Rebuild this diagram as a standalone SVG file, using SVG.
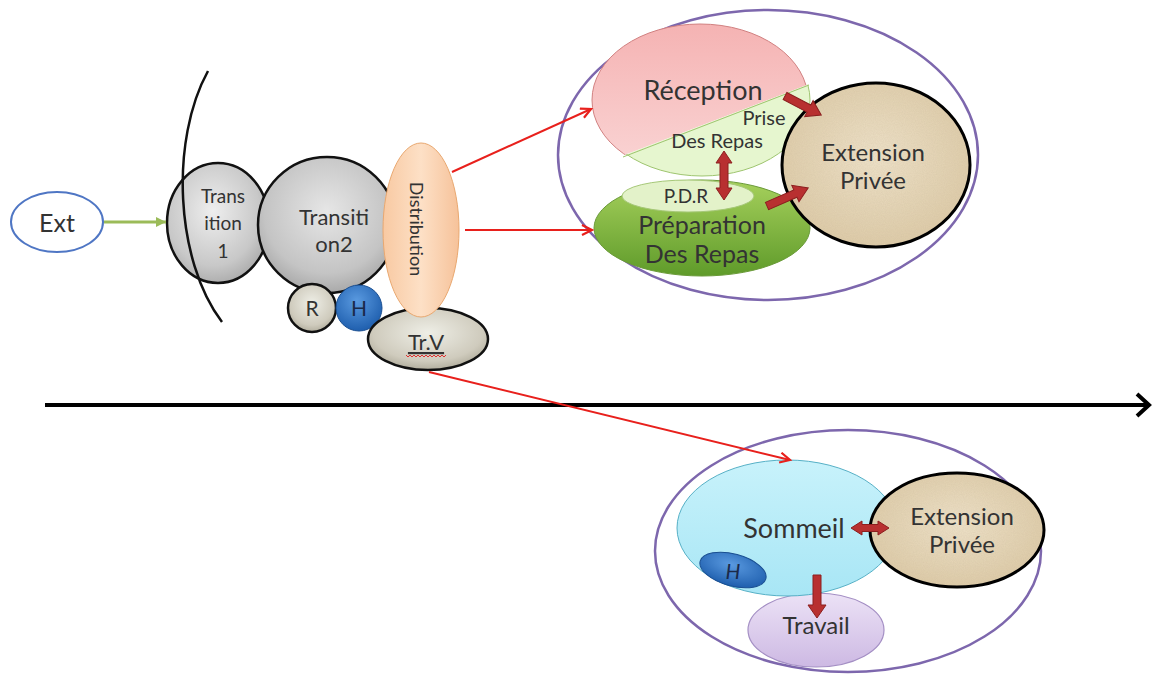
<svg xmlns="http://www.w3.org/2000/svg" width="1156" height="674" viewBox="0 0 1156 674">
<defs>
<style>
.t{font-family:Lato,"Open Sans","Liberation Sans",sans-serif;fill:#333333;text-anchor:middle}
.red{stroke:#e8201c;stroke-width:2;fill:none}
.blk{fill:#b83030;stroke:#8c1f1f;stroke-width:1}
.gray{stroke:#111;stroke-width:2.5}
.ring{fill:none;stroke:#000;stroke-width:3}
</style>
<radialGradient id="gGray" cx="0.45" cy="0.4" r="0.65"><stop offset="0" stop-color="#eeeeee"/><stop offset="0.7" stop-color="#c8c8c8"/><stop offset="1" stop-color="#a6a6a6"/></radialGradient>
<radialGradient id="gGray2" cx="0.5" cy="0.4" r="0.65"><stop offset="0" stop-color="#e6e6e6"/><stop offset="0.7" stop-color="#c4c4c4"/><stop offset="1" stop-color="#a0a0a0"/></radialGradient>
<radialGradient id="gTan" cx="0.5" cy="0.4" r="0.65"><stop offset="0" stop-color="#eeeee6"/><stop offset="0.7" stop-color="#cfcbbd"/><stop offset="1" stop-color="#a8a493"/></radialGradient>
<radialGradient id="gBlue" cx="0.45" cy="0.35" r="0.65"><stop offset="0" stop-color="#5a9ae0"/><stop offset="1" stop-color="#1f5fae"/></radialGradient>
<linearGradient id="gOrange" x1="0" y1="0" x2="1" y2="0"><stop offset="0" stop-color="#f8c9a2"/><stop offset="0.5" stop-color="#fde0c6"/><stop offset="1" stop-color="#f6c29a"/></linearGradient>
<radialGradient id="gSand" cx="0.5" cy="0.45" r="0.6"><stop offset="0" stop-color="#efe3ca"/><stop offset="1" stop-color="#ddcaa6"/></radialGradient>
<linearGradient id="gPink" x1="0" y1="0" x2="0" y2="1"><stop offset="0" stop-color="#f5b3b3"/><stop offset="1" stop-color="#fad6d6"/></linearGradient>
<linearGradient id="gGreen" x1="0" y1="0" x2="0" y2="1"><stop offset="0" stop-color="#a6d05c"/><stop offset="1" stop-color="#5f9b2a"/></linearGradient>
<linearGradient id="gCyan" x1="0" y1="0" x2="0" y2="1"><stop offset="0" stop-color="#c8f2fb"/><stop offset="1" stop-color="#a8e6f5"/></linearGradient>
<linearGradient id="gLav" x1="0" y1="0" x2="0" y2="1"><stop offset="0" stop-color="#ece2f6"/><stop offset="1" stop-color="#cdb9e3"/></linearGradient>
<filter id="noise" x="0" y="0" width="1" height="1"><feTurbulence type="fractalNoise" baseFrequency="0.9" numOctaves="2" seed="3" result="n"/><feColorMatrix in="n" type="matrix" values="0 0 0 0 0.55  0 0 0 0 0.45  0 0 0 0 0.3  0 0 0 0.3 0" result="c"/><feComposite in="c" in2="SourceGraphic" operator="in" result="m"/><feMerge><feMergeNode in="SourceGraphic"/><feMergeNode in="m"/></feMerge></filter>
<clipPath id="clipTop"><polygon points="560,0 860,0 860,62 820,80 580,172 560,180"/></clipPath>
<clipPath id="clipBot"><polygon points="580,172 820,80 860,62 860,200 560,200 560,180"/></clipPath>
<marker id="rh" markerWidth="14" markerHeight="12" refX="11" refY="6" orient="auto" markerUnits="userSpaceOnUse"><path d="M1,1 L11,6 L1,11" fill="none" stroke="#e8201c" stroke-width="2.2"/></marker>
<marker id="gh" markerWidth="12" markerHeight="12" refX="10" refY="6" orient="auto" markerUnits="userSpaceOnUse"><path d="M0,1 L10,6 L0,11 Z" fill="#9bbb59"/></marker>
</defs>

<rect width="1156" height="674" fill="#ffffff"/>

<g id="axis">
<line x1="45" y1="405" x2="1148" y2="405" stroke="#000" stroke-width="4"/>
<polyline points="1137,394 1149,405 1137,416" fill="none" stroke="#000" stroke-width="4"/>
</g>

<g id="ext">
<ellipse cx="57" cy="222" rx="46" ry="30" fill="#fff" stroke="#4f76c4" stroke-width="2"/>
<text class="t" x="57" y="232" font-size="25">Ext</text>
</g>
<g id="transition1">
<ellipse cx="218" cy="223" rx="51" ry="60" fill="url(#gGray)" class="gray"/>
<text class="t" x="223" y="203" font-size="19">Trans</text>
<text class="t" x="223" y="230" font-size="19">ition</text>
<text class="t" x="223" y="258" font-size="19">1</text>
</g>
<g id="barrier">
<path d="M208,71 C170,140 175,260 222,322" fill="none" stroke="#111" stroke-width="2.5"/>
</g>
<g id="transition2">
<ellipse cx="327" cy="225" rx="69" ry="68" fill="url(#gGray2)" class="gray"/>
<text class="t" x="334" y="225" font-size="22">Transiti</text>
<text class="t" x="334" y="252" font-size="22">on2</text>
</g>
<g id="r">
<circle cx="312" cy="308" r="24" fill="url(#gTan)" class="gray"/>
<text class="t" x="312" y="316" font-size="21">R</text>
</g>
<g id="h">
<circle cx="359" cy="308" r="23" fill="url(#gBlue)" stroke="#1a4f92" stroke-width="1"/>
<text class="t" x="359" y="316" font-size="21" style="fill:#1b2a4a">H</text>
</g>
<g id="trv">
<ellipse cx="428" cy="339" rx="60" ry="31" fill="url(#gTan)" class="gray"/>
<text class="t" x="426" y="350" font-size="22" text-decoration="underline">Tr.V</text>
<path d="M406,355 l2,2 l2,-2 l2,2 l2,-2 l2,2 l2,-2 l2,2 l2,-2 l2,2 l2,-2 l2,2 l2,-2 l2,2 l2,-2 l2,2 l2,-2 l2,2 l2,-2 l2,2 l2,-2" fill="none" stroke="#e03030" stroke-width="1"/>
</g>
<g id="distribution">
<ellipse cx="421" cy="230" rx="38" ry="87" fill="url(#gOrange)" stroke="#e9a870" stroke-width="1"/>
<text class="t" x="0" y="0" font-size="18" transform="translate(410,229) rotate(90)">Distribution</text>
</g>

<g id="groupTop">
<ellipse cx="768" cy="155" rx="210" ry="145" fill="none" stroke="#7d67ad" stroke-width="2.5"/>
</g>
<g id="reception">
<ellipse cx="700" cy="100" rx="108" ry="76" fill="url(#gPink)" stroke="#d08080" stroke-width="1" clip-path="url(#clipTop)"/>
<ellipse cx="702" cy="100" rx="108" ry="76" fill="#e6f6cf" stroke="#9ec46f" stroke-width="1" clip-path="url(#clipBot)"/>
<line x1="623" y1="157" x2="809" y2="85" stroke="#9ec46f" stroke-width="1"/>
<text class="t" x="703" y="100" font-size="27">Réception</text>
<text class="t" x="764" y="125" font-size="20">Prise</text>
<text class="t" x="717" y="148" font-size="20">Des Repas</text>
</g>
<g id="preparation">
<ellipse cx="702" cy="228" rx="108" ry="48" fill="url(#gGreen)" stroke="#6a9a38" stroke-width="1"/>
<ellipse cx="688" cy="196" rx="66" ry="16" fill="#e3f2c9" stroke="#a6c878" stroke-width="1"/>
<text class="t" x="686" y="203" font-size="19">P.D.R</text>
<text class="t" x="702" y="234" font-size="25">Préparation</text>
<text class="t" x="702" y="263" font-size="25">Des Repas</text>
</g>
<g id="extensionTop">
<ellipse cx="876" cy="165" rx="94" ry="82" fill="url(#gSand)" filter="url(#noise)"/>
<ellipse cx="876" cy="165" rx="94" ry="82" class="ring"/>
<text class="t" x="873" y="161" font-size="24">Extension</text>
<text class="t" x="873" y="189" font-size="24">Privée</text>
</g>

<g id="groupBottom">
<ellipse cx="848" cy="551" rx="193" ry="121" fill="none" stroke="#7d67ad" stroke-width="2.5"/>
</g>
<g id="travail">
<ellipse cx="816" cy="630" rx="68" ry="37" fill="url(#gLav)" stroke="#a48fc4" stroke-width="1.2"/>
<text class="t" x="816" y="634" font-size="24">Travail</text>
</g>
<g id="sommeil">
<ellipse cx="787" cy="528" rx="110" ry="68" fill="url(#gCyan)" stroke="#56b0c6" stroke-width="1"/>
<text class="t" x="794" y="538" font-size="27">Sommeil</text>
</g>
<g id="h2">
<ellipse cx="733" cy="570" rx="34" ry="16" transform="rotate(15 733 570)" fill="url(#gBlue)" stroke="#1a4f92" stroke-width="1"/>
<text class="t" x="733" y="579" font-size="21" font-style="italic" style="fill:#1b2a4a">H</text>
</g>
<g id="extensionBottom">
<ellipse cx="957" cy="530" rx="87" ry="57" fill="url(#gSand)" filter="url(#noise)"/>
<ellipse cx="957" cy="530" rx="87" ry="57" class="ring"/>
<text class="t" x="962" y="525" font-size="24">Extension</text>
<text class="t" x="962" y="553" font-size="24">Privée</text>
</g>

<g id="connectors">
<line x1="104" y1="222" x2="166" y2="222" stroke="#9bbb59" stroke-width="3" marker-end="url(#gh)"/>
<line class="red" x1="452" y1="172" x2="591" y2="109" marker-end="url(#rh)"/>
<line class="red" x1="465" y1="230" x2="592" y2="230" marker-end="url(#rh)"/>
<line class="red" x1="429" y1="372" x2="790" y2="460" marker-end="url(#rh)"/>
<polygon class="blk" transform="translate(785,96) rotate(27.8)" points="0,-4 27,-4 27,-9 41,0 27,9 27,4 0,4"/>
<polygon class="blk" transform="translate(767,206) rotate(-23.7)" points="0,-4 31,-4 31,-9 45,0 31,9 31,4 0,4"/>
<polygon class="blk" transform="translate(724,151) rotate(90)" points="0,0 12,-8 12,-4 37,-4 37,-8 49,0 37,8 37,4 12,4 12,8"/>
<polygon class="blk" transform="translate(851,528)" points="0,0 11,-7 11,-3.5 27,-3.5 27,-7 38,0 27,7 27,3.5 11,3.5 11,7"/>
<polygon class="blk" transform="translate(817,575) rotate(90)" points="0,-4 30,-4 30,-9 43,0 30,9 30,4 0,4"/>
</g>
</svg>
